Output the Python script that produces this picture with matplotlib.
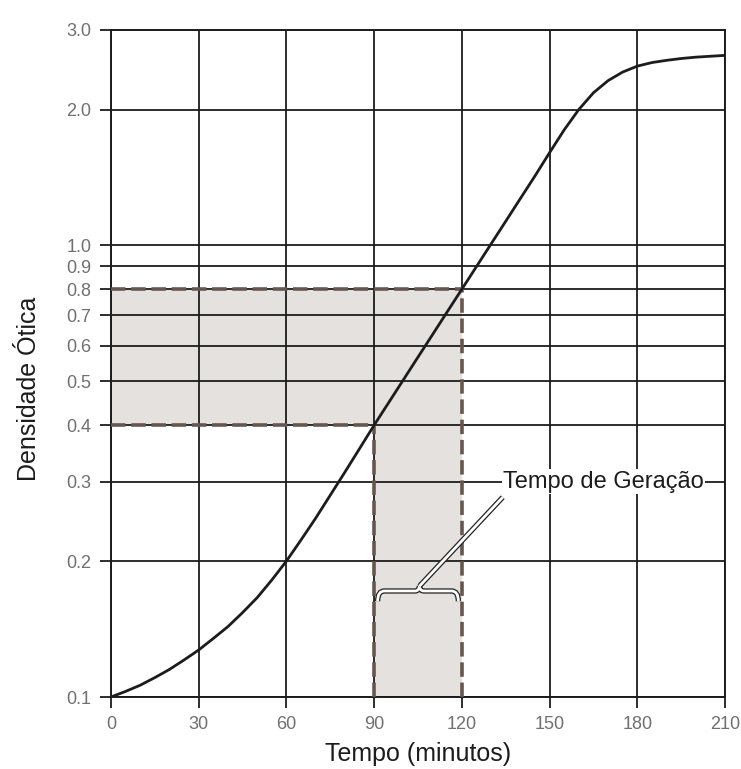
import numpy as np
import matplotlib
matplotlib.use('Agg')
import matplotlib.pyplot as plt
import matplotlib.patheffects as pe
from matplotlib.path import Path
from matplotlib.patches import PathPatch

# Growth curve (time in minutes, optical density)
tempo = [0, 5, 10, 15, 20, 25, 30, 35, 40, 45, 50, 55, 60, 65, 70, 75, 80, 85,
         90, 95, 100, 105, 110, 115, 120, 125, 130, 135, 140, 145, 150, 155,
         160, 165, 170, 175, 180, 185, 190, 195, 200, 205, 210]
densidade = [0.1, 0.1029, 0.1062, 0.1104, 0.1151, 0.1208, 0.1271, 0.1348, 0.1432,
             0.1538, 0.166, 0.1816, 0.2, 0.2228, 0.2489, 0.2799, 0.3148, 0.3548,
             0.4, 0.449, 0.504, 0.566, 0.635, 0.713, 0.8, 0.898, 1.008, 1.131,
             1.27, 1.425, 1.605, 1.803, 2.0, 2.178, 2.317, 2.421, 2.495, 2.541,
             2.57, 2.594, 2.612, 2.624, 2.636]

x_ticks = [0, 30, 60, 90, 120, 150, 180, 210]
y_ticks = [0.1, 0.2, 0.3, 0.4, 0.5, 0.6, 0.7, 0.8, 0.9, 1.0, 2.0, 3.0]
y_labels = ['0.1', '0.2', '0.3', '0.4', '0.5', '0.6', '0.7', '0.8', '0.9', '1.0', '2.0', '3.0']

# generation time box: from OD 0.4 at 90 min to OD 0.8 at 120 min
t_inicio, t_fim = 90, 120
od_inicio, od_fim = 0.4, 0.8

plt.rcParams['font.family'] = ['Liberation Sans', 'DejaVu Sans']

fig = plt.figure(figsize=(7.41, 7.69), dpi=100)
ax = fig.add_axes([111 / 741, 1 - 697 / 769, 614 / 741, 667 / 769])
ax.set_yscale('log')
ax.set_xlim(0, 210)
ax.set_ylim(0.1, 3.0)

shade = '#e4e1de'
dash_col = '#65574f'
ink = '#1c1c1c'

# shaded regions
ax.fill_between([0, t_fim], od_inicio, od_fim, color=shade, lw=0, zorder=1)
ax.fill_between([t_inicio, t_fim], 0.1, od_inicio, color=shade, lw=0, zorder=1)

# grid
for yv in y_ticks:
    ax.axhline(yv, color=ink, lw=1.3, zorder=2)
for xv in x_ticks:
    if xv == t_fim:
        ax.plot([xv, xv], [od_fim, 3.0], color=ink, lw=1.3, zorder=2)
    else:
        ax.axvline(xv, color=ink, lw=1.3, zorder=2)

# dashed guides
dash_kw = dict(color=dash_col, lw=2.6, ls=(0, (4, 1.6)), zorder=3)
ax.plot([0, t_fim], [od_fim, od_fim], **dash_kw)
ax.plot([0, t_inicio], [od_inicio, od_inicio], **dash_kw)
ax.plot([t_fim, t_fim], [0.1, od_fim], **dash_kw)
ax.plot([t_inicio, t_inicio], [0.1, od_inicio], **dash_kw)

# growth curve
ax.plot(tempo, densidade, color=ink, lw=2.0, zorder=4, solid_joinstyle='round')

# bracket + leader for generation time
verts = [(t_inicio + 1.2, 0.163), (t_inicio + 1.2, 0.1717), (t_inicio + 3.5, 0.1717),
         (104, 0.1717), (105.3, 0.1717), (105.5, 0.176),
         (105.7, 0.1717), (107, 0.1717),
         (t_fim - 3.5, 0.1717), (t_fim - 1.2, 0.1717), (t_fim - 1.2, 0.163)]
codes = [Path.MOVETO, Path.CURVE3, Path.CURVE3,
         Path.LINETO, Path.CURVE3, Path.CURVE3,
         Path.CURVE3, Path.CURVE3,
         Path.LINETO, Path.CURVE3, Path.CURVE3]
outline = [pe.Stroke(linewidth=3.8, foreground='#222222'), pe.Normal()]
brace = PathPatch(Path(verts, codes), fill=False, edgecolor='white', lw=2.0,
                  zorder=5, path_effects=outline)
ax.add_patch(brace)
ax.plot([105.5, 134], [0.176, 0.277], color='white', lw=2.0, zorder=5,
        path_effects=outline, solid_capstyle='butt')

ax.text(168.5, 0.3, 'Tempo de Geração', fontsize=17, color=ink,
        ha='center', va='center', zorder=6,
        bbox=dict(facecolor='white', edgecolor='none', pad=1.0))

# ticks and labels
ax.set_xticks(x_ticks)
ax.set_xticklabels([str(v) for v in x_ticks])
ax.set_yticks(y_ticks)
ax.set_yticklabels(y_labels)
ax.yaxis.set_minor_locator(matplotlib.ticker.NullLocator())
ax.tick_params(axis='both', length=8, width=1.3, color=ink,
               labelcolor='#707070', labelsize=13)
ax.tick_params(axis='y', pad=6)
ax.tick_params(axis='x', pad=6)
for s in ax.spines.values():
    s.set_color(ink)
    s.set_linewidth(1.4)

ax.set_xlabel('Tempo (minutos)', fontsize=18, color=ink, labelpad=6)
ax.set_ylabel('Densidade Ótica', fontsize=18, color=ink)
ax.yaxis.set_label_coords(-0.114, 0.462)

fig.savefig('out.png', dpi=100)
